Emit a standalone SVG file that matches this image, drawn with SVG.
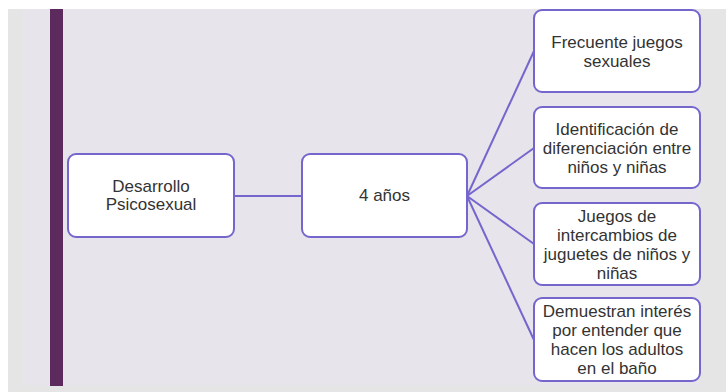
<svg xmlns="http://www.w3.org/2000/svg" width="726" height="392" viewBox="0 0 726 392">
<style>
.box{fill:#ffffff;stroke:#7466cc;stroke-width:2}
.lnk{stroke:#7466cc;stroke-width:2;fill:none}
text{font-family:"Liberation Sans",Arial,sans-serif;font-size:17px;fill:#333333;text-anchor:middle}
</style>
<rect x="0" y="0" width="726" height="392" fill="#ffffff"/>
<rect x="8" y="9" width="718" height="383" fill="#e5e5e5"/>
<rect x="23" y="9" width="677" height="376" fill="#e8e4eb"/>
<rect x="50" y="9" width="13" height="377" fill="#5c2a5c"/>
<g id="connectors">
<line class="lnk" x1="234" y1="196" x2="302" y2="196"/>
<line class="lnk" x1="467" y1="196" x2="534" y2="51"/>
<line class="lnk" x1="467" y1="196" x2="534" y2="148"/>
<line class="lnk" x1="467" y1="196" x2="534" y2="244"/>
<line class="lnk" x1="467" y1="196" x2="534" y2="340"/>
</g>
<g id="node-desarrollo">
<rect class="box" x="68" y="154" width="166" height="83" rx="8"/>
<text x="151" y="192">Desarrollo</text>
<text x="151" y="210">Psicosexual</text>
</g>
<g id="node-4anos">
<rect class="box" x="302" y="154" width="165" height="83" rx="8"/>
<text x="384.5" y="201">4 años</text>
</g>
<g id="node-juegos-sexuales">
<rect class="box" x="534" y="10" width="166" height="82" rx="8"/>
<text x="617" y="48">Frecuente juegos</text>
<text x="617" y="67">sexuales</text>
</g>
<g id="node-identificacion">
<rect class="box" x="534" y="107" width="166" height="81" rx="8"/>
<text x="617" y="134.5">Identificación de</text>
<text x="617" y="153.5">diferenciación entre</text>
<text x="617" y="172.5">niños y niñas</text>
</g>
<g id="node-intercambios">
<rect class="box" x="534" y="203" width="166" height="82" rx="8"/>
<text x="617" y="221.5">Juegos de</text>
<text x="617" y="240.5">intercambios de</text>
<text x="617" y="259.5">juguetes de niños y</text>
<text x="617" y="278.5">niñas</text>
</g>
<g id="node-bano">
<rect class="box" x="534" y="298" width="166" height="83" rx="8"/>
<text x="617" y="317">Demuestran interés</text>
<text x="617" y="336">por entender que</text>
<text x="617" y="355">hacen los adultos</text>
<text x="617" y="374">en el baño</text>
</g>
</svg>
